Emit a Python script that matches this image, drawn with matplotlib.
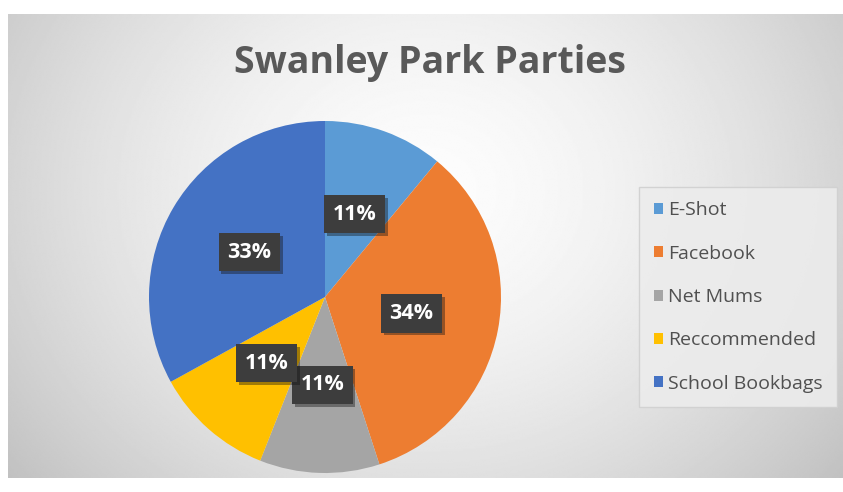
import numpy as np
import matplotlib.pyplot as plt
from matplotlib.patches import Patch
import matplotlib.patheffects as pe

# data
labels = ['E-Shot', 'Facebook', 'Net Mums', 'Reccommended', 'School Bookbags']
shares = [11, 34, 11, 11, 33]
colors = ['#5B9BD5', '#ED7D31', '#A5A5A5', '#FFC000', '#4472C4']
title = 'Swanley Park Parties'

W, H = 843, 492
fig = plt.figure(figsize=(W / 100, H / 100), dpi=100)
fig.patch.set_facecolor('white')

# grey radial gradient behind the chart
bg = fig.add_axes([8 / W, 14 / H, 1 - 8 / W, (478 - 14) / H])
yy, xx = np.mgrid[0:1:300j, 0:1:500j]
d = np.sqrt(((xx - 0.5) / 0.62) ** 2 + ((yy - 0.62) / 0.95) ** 2)
shade = np.clip(0.99 - 0.22 * d ** 1.6, 0, 1)
bg.imshow(shade, cmap='gray', vmin=0, vmax=1, aspect='auto', extent=[0, 1, 0, 1],
          origin='lower', interpolation='bilinear')
bg.axis('off')

fig.text(430 / W, 1 - 63 / H, title, ha='center', va='center', fontsize=27,
         fontweight='bold', color='#595959', family='Open Sans')

# pie
r = 176
ax = fig.add_axes([(325 - r) / W, 1 - (297 + r) / H, 2 * r / W, 2 * r / H])
wedges, texts = ax.pie(shares, colors=colors, startangle=90, counterclock=False,
                       radius=1, wedgeprops=dict(linewidth=0))
ax.set_xlim(-1, 1)
ax.set_ylim(-1, 1)
ax.set_aspect('equal')
ax.axis('off')

for w, v in zip(wedges, shares):
    mid = np.deg2rad((w.theta1 + w.theta2) / 2)
    ax.text(0.5 * np.cos(mid), 0.5 * np.sin(mid), f'{v}%', ha='center', va='center',
            fontsize=15.5, fontweight='bold', color='white', family='Open Sans',
            bbox=dict(boxstyle='square,pad=0.4', fc='#3d3d3d', ec='none',
                      path_effects=[pe.SimplePatchShadow(offset=(2, -2), alpha=0.4),
                                    pe.Normal()]))

handles = [Patch(facecolor=c, edgecolor='none') for c in colors]
leg = fig.legend(handles, labels, loc='center left',
                 bbox_to_anchor=(639 / W, 1 - 297 / H), frameon=True, fancybox=False,
                 labelspacing=1.3, handlelength=0.5, handleheight=0.5, handletextpad=0.25,
                 borderpad=0.75, borderaxespad=0, prop=dict(family='Open Sans', size=14))
leg.get_frame().set_facecolor('#ececec')
leg.get_frame().set_edgecolor('#d0d0d0')
leg.get_frame().set_alpha(0.9)
for t in leg.get_texts():
    t.set_color('#505050')

fig.savefig('out.png', dpi=100)
